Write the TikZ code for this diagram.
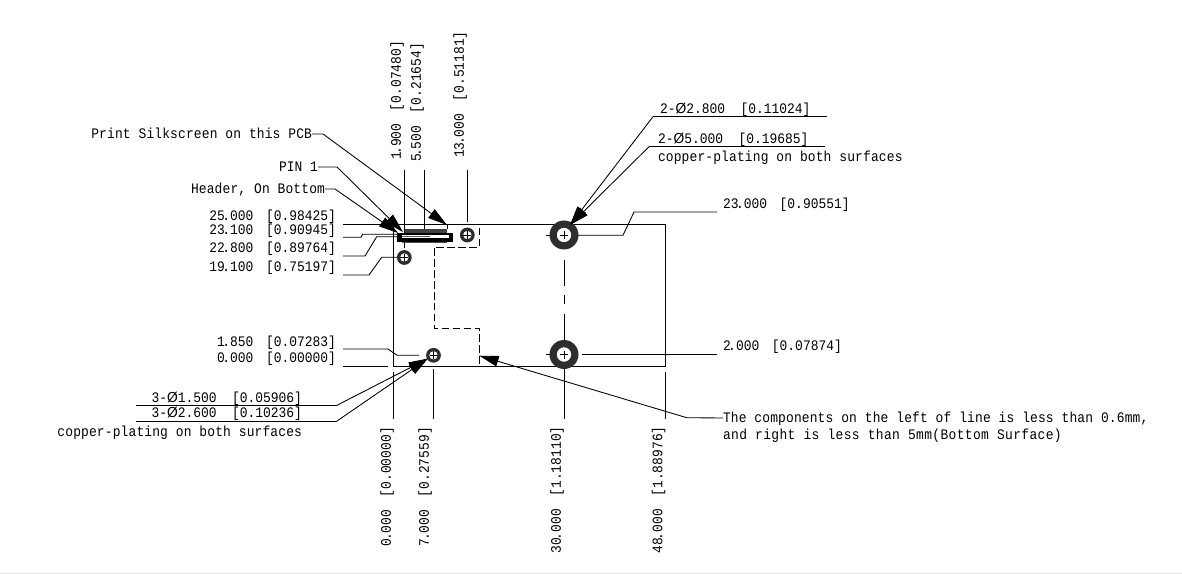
\documentclass[tikz,border=0pt]{standalone}
\usepackage{fontspec}
\setmainfont[FakeStretch=0.89]{Liberation Mono}
\newfontfamily\phifont[FakeStretch=0.95]{Liberation Sans}
\usetikzlibrary{arrows.meta,calc}
\newcommand{\dimtext}[3]{#1\kern-1.9pt.#2~\kern3.7pt[#3]}
\newcommand{\phisym}{{\phifont Ø}}
\tikzset{
  x=0.75pt,y=-0.75pt,
  every node/.style={inner sep=0pt,outer sep=0pt,font=\fontsize{10.9}{12}\selectfont,text height=7.2pt,text depth=0pt},
  line/.style={draw=black,line width=0.65pt},
  lbl/.style={anchor=east},
  lblw/.style={anchor=west},
  vlbl/.style={rotate=90,anchor=west},
  wide/.style={font=\fontsize{10.9}{12}\selectfont\addfontfeature{LetterSpace=1}},
  wider/.style={font=\fontsize{10.9}{12}\selectfont\addfontfeature{LetterSpace=2.5}},
  leader/.style={line,-{Triangle[length=14.5pt,width=8pt]}},
  cross/.style={draw=black,line width=0.5pt},
  ringfill/.style={fill=black!82,even odd rule},
  dim/.style={line,dash pattern=on 5.6pt off 2.6pt},
}
\newcommand{\hole}[5]{% name, x, y, r-outer, r-inner
  \coordinate (#1) at (#2,#3);
  \fill[ringfill] (#1) circle[radius=#4*0.75pt] (#1) circle[radius=#5*0.75pt];
  \draw[cross] ($(#1)+(-4,0)$) -- ($(#1)+(4,0)$) ($(#1)+(0,-4)$) -- ($(#1)+(0,4)$);
}
\begin{document}
\begin{tikzpicture}
\useasboundingbox (0,0) rectangle (1182,574);
\fill[white] (0,0) rectangle (1182,574);
\draw[black!8,line width=0.6pt] (0,573.3) -- (1182,573.3);

% board outline and extension lines
\coordinate (tl) at (343,224); \coordinate (tr) at (665.7,224);
\coordinate (br) at (665.7,366); \coordinate (bl) at (393.5,366);
\draw[line] (tl) -- (tr) -- (br) -- (bl) -- (393.5,224);
\draw[line] (343,366) -- (388,366);
\draw[line] (393.5,372) -- (393.5,419);
\draw[line] (433.5,369) -- (433.5,419);
\draw[line] (564,368) -- (564,419);
\draw[line] (665.7,372) -- (665.7,419);
\draw[line] (404.3,170) -- (404.3,248);
\draw[line] (424.3,170) -- (424.3,237);
\draw[line] (467.3,170) -- (467.3,222);
% centre line
\draw[line] (564,260) -- (564,285.7) (564,295) -- (564,304) (564,314) -- (564,340);
\draw[line] (546,235) -- (550,235) (546,354.5) -- (550,354.5);

% keep-out
\draw[dim] (479.3,228) -- (479.3,247.3) -- (434,247.3) -- (434,328) -- (479.3,328) -- (479.3,366);

% holes
\hole{hA}{564}{235}{14.5}{7.3}
\hole{hB}{564}{354.5}{14.5}{7.3}
\hole{hC}{467.3}{235}{7.4}{4.3}
\hole{hD}{404.3}{257.5}{7.4}{4.3}
\hole{hE}{433.5}{355.3}{7.4}{4.3}

% connector
\fill[black!75] (405,229.4) rectangle (446.7,233);
\fill[black!70] (402,240.5) rectangle (447,243);
\fill[black] (397.3,232.7) rectangle (452.5,241.7);
\fill[white] (402,235.2) rectangle (448.5,238.5);
\draw[black!65,line width=0.6pt] (402,236.8) -- (430,236.8);

% top dims
\node[vlbl] (d1) at (396,160) {\dimtext{1}{900}{0.07480}};
\node[vlbl] (d2) at (416,162) {\dimtext{5}{500}{0.21654}};
\node[vlbl] (d3) at (459,158) {\dimtext{13}{000}{0.51181}};
% bottom dims
\node[vlbl] (b1) at (386,546) {\dimtext{0}{000}{0.00000}};
\node[vlbl] (b2) at (424,546) {\dimtext{7}{000}{0.27559}};
\node[vlbl] (b3) at (556,553) {\dimtext{30}{000}{1.18110}};
\node[vlbl] (b4) at (657.5,553) {\dimtext{48}{000}{1.88976}};

% left dims
\node[lbl] (l1) at (336,216) {\dimtext{25}{000}{0.98425}};
\node[lbl] (l2) at (336,230) {\dimtext{23}{100}{0.90945}};
\node[lbl] (l3) at (336,248) {\dimtext{22}{800}{0.89764}};
\node[lbl] (l4) at (336,267) {\dimtext{19}{100}{0.75197}};
\node[lbl] (l5) at (336,342) {\dimtext{1}{850}{0.07283}};
\node[lbl] (l6) at (336,358) {\dimtext{0}{000}{0.00000}};
\draw[line] (343,237.3) -- (361,237.3) -- (362.5,234.3) -- (397,234.3);
\draw[line] (343,256) -- (365,256) -- (376.7,236.7) -- (397,236.7);
\draw[line] (343,275) -- (369,275) -- (381.7,257.3) -- (397,257.3);
\draw[line] (343,349) -- (388,349) -- (397,355.3) -- (419,355.3);

% callouts top-left
\node[lbl,wide] (t1) at (312,134) {Print Silkscreen on this PCB};
\node[lbl] (t2) at (318,167) {PIN 1};
\node[lbl,wide] (t3) at (325,189) {Header, On Bottom};
\coordinate (p1) at (447,225); \coordinate (p2) at (403,232); \coordinate (p3) at (398,233);
\draw[leader] (t1.east) -- (323,134) -- (p1);
\draw[line] (p1) -- (447,229.5);
\draw[leader] (t2.east) -- (337,167) -- (p2);
\draw[leader] (t3.east) -- (335,189) -- (p3);

% callouts right
\node[lblw] (r1) at (660,109) {2-\phisym 2.800~~[0.11024]};
\node[lblw] (r2) at (658,139) {2-\phisym 5.000~~[0.19685]};
\node[lblw,wide] (r3) at (658,157) {copper-plating on both surfaces};
\node[lblw] (r4) at (723,204) {\dimtext{23}{000}{0.90551}};
\node[lblw] (r5) at (723,346) {\dimtext{2}{000}{0.07874}};
\coordinate (q1) at (570,225);
\draw[line] (827,116.7) -- (653,116.7);
\draw[line] (825,146.7) -- (649,146.7);
\draw[leader] (653,116.7) -- (q1);
\draw[leader] (649,146.7) -- (q1);
\draw[line] (717,212) -- (634,212) -- (623,235.3) -- (578,235.3);
\draw[line] (582,354.3) -- (717,354.3);

% callouts bottom left
\node[anchor=east] (c1) at (302,398) {3-\phisym 1.500~~[0.05906]};
\node[anchor=east] (c2) at (302,413) {3-\phisym 2.600~~[0.10236]};
\node[anchor=east,wide] (c3) at (302,432) {copper-plating on both surfaces};
\coordinate (q2) at (428,358.5);
\draw[line] (136,405.3) -- (337,405.3);
\draw[line] (136,421) -- (337,421);
\draw[leader] (337,405.3) -- (q2);
\draw[leader] (337,421) -- (q2);

% note
\node[lblw,wide] (n1) at (723,418) {The components on the left of line is less than 0.6mm,};
\node[lblw,wider] (n2) at (723,435) {and right is less than 5mm(Bottom Surface)};
\coordinate (q3) at (479.3,355.7);
\draw[leader] (n1.west) -- (686.7,417.7) -- (q3);
\end{tikzpicture}
\end{document}
